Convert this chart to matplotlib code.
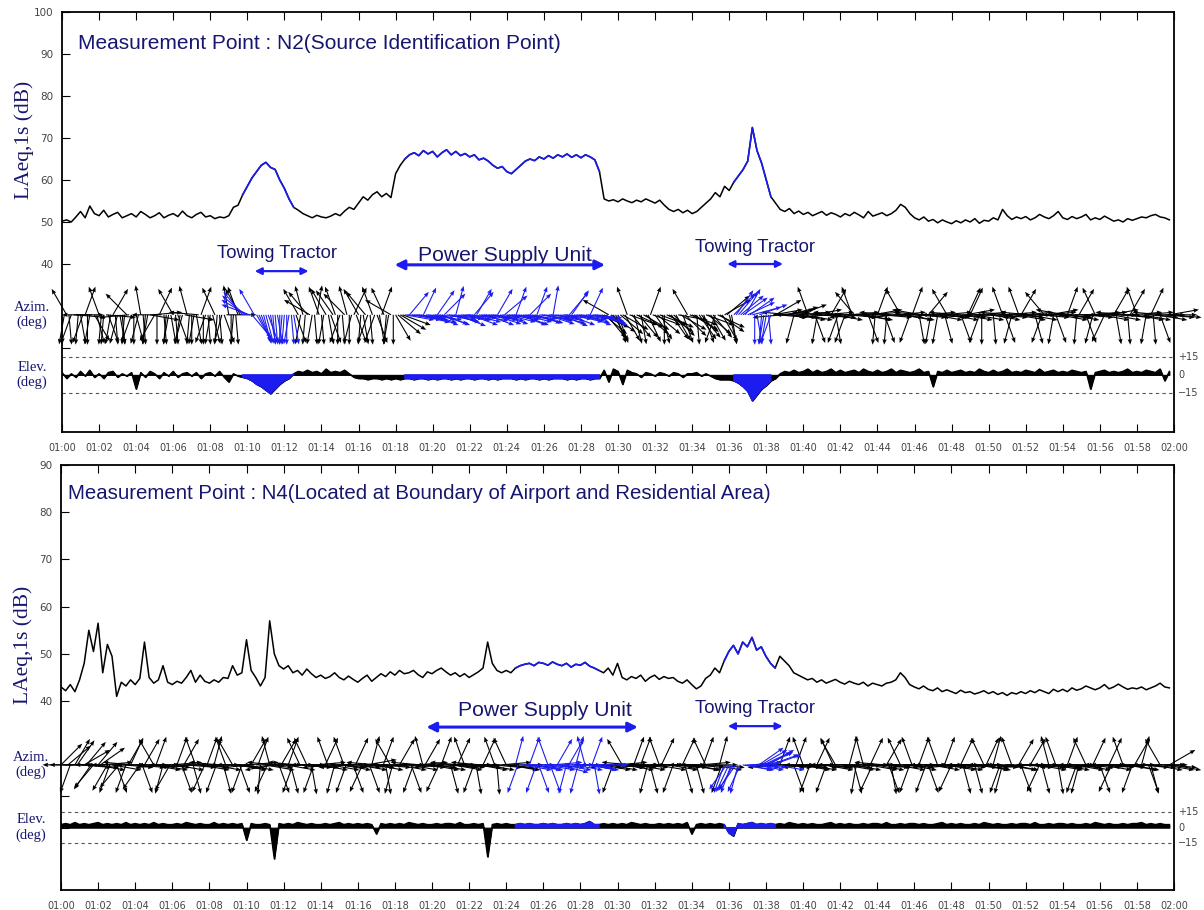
import numpy as np
import matplotlib
matplotlib.use("Agg")
import matplotlib.pyplot as plt

# ---------------- data (15 s resolution, minutes after 01:00) ----------------
top_level = [
    50.2, 50.5, 50.0, 51.2,  52.5, 51.0, 53.8, 52.0,  51.5, 52.8, 51.2, 51.8,
    52.3, 51.0, 51.5, 52.0,  51.2, 52.5, 51.8, 51.0,  51.5, 52.2, 51.0, 51.6,
    52.0, 51.3, 52.6, 51.5,  51.0, 51.8, 52.3, 51.2,  51.5, 50.8, 51.2, 51.0,
    51.5, 53.5, 54.0, 56.5,  58.5, 60.5, 62.0, 63.5,  64.2, 63.0, 62.5, 60.0,
    58.0, 55.5, 53.5, 52.8,  52.0, 51.5, 51.0, 51.6,  51.2, 51.0, 51.4, 52.0,
    51.5, 52.6, 53.5, 53.0,  54.5, 56.0, 55.2, 56.5,  57.2, 56.0, 56.8, 55.8,
    61.5, 63.5, 65.0, 66.0,  66.5, 65.8, 67.0, 66.2,  66.8, 65.5, 66.5, 67.2,
    66.0, 66.8, 65.8, 66.3,  65.5, 66.0, 64.8, 65.2,  64.5, 63.5, 62.8, 63.2,
    62.0, 61.5, 62.5, 63.5,  64.5, 65.0, 64.6, 65.5,  65.0, 65.8, 65.2, 66.0,
    65.5, 66.2, 65.4, 66.0,  65.3, 66.0, 65.5, 64.8,  62.0, 55.5, 55.0, 55.3,
    54.8, 55.5, 55.0, 54.6,  55.2, 54.8, 55.5, 55.0,  54.5, 55.2, 54.0, 53.0,
    52.5, 53.0, 52.2, 52.8,  52.0, 52.5, 53.5, 54.5,  55.5, 57.0, 56.0, 58.5,
    57.5, 59.5, 61.0, 62.5,  64.5, 72.5, 67.0, 64.0,  60.0, 56.0, 54.5, 53.0,
    52.5, 53.2, 52.0, 52.6,  51.8, 52.3, 51.5, 52.0,  52.5, 51.6, 52.2, 51.8,
    51.2, 52.0, 51.5, 52.3,  51.7, 51.0, 52.5, 51.4,  51.8, 52.2, 51.5, 52.0,
    52.8, 54.2, 53.5, 52.0,  51.0, 50.5, 51.2, 50.2,  50.6, 49.8, 50.5, 50.0,
    49.6, 50.3, 49.8, 50.5,  50.0, 50.8, 49.7, 50.4,  50.2, 51.0, 50.5, 53.0,
    51.5, 50.6, 51.2, 50.8,  51.3, 50.5, 51.0, 51.8,  51.2, 50.8, 51.5, 52.5,
    51.0, 50.6, 51.3, 50.8,  51.2, 51.8, 50.5, 51.0,  50.6, 51.4, 50.8, 50.2,
    50.5, 50.0, 50.8, 50.4,  50.8, 51.2, 51.0, 51.5,  51.8, 51.2, 51.0, 50.5,
]
bot_level = [
    43.0, 42.2, 43.5, 42.0,  44.5, 48.0, 55.0, 50.5,  56.5, 46.0, 52.0, 49.5,
    41.0, 44.0, 43.2, 44.5,  43.5, 44.8, 52.5, 45.0,  43.8, 44.5, 47.5, 44.0,
    43.5, 44.2, 43.8, 45.0,  46.5, 44.0, 45.5, 44.2,  43.8, 44.5, 44.0, 45.0,
    44.8, 47.5, 45.5, 46.0,  53.0, 46.5, 45.0, 43.2,  45.0, 57.0, 50.0, 47.5,
    46.8, 47.5, 46.0, 46.5,  45.5, 46.8, 45.8, 45.0,  45.5, 44.8, 45.2, 46.0,
    45.0, 44.5, 45.3, 44.6,  44.0, 44.8, 45.5, 44.2,  45.0, 45.8, 45.2, 46.2,
    45.5, 46.5, 45.8, 46.0,  46.5, 45.6, 45.0, 46.2,  45.8, 46.5, 47.0, 46.2,
    45.5, 46.0, 45.2, 45.8,  45.0, 45.6, 46.2, 47.0,  52.5, 48.0, 46.5, 46.0,
    46.5, 46.0, 47.0, 47.5,  47.8, 48.0, 47.5, 48.2,  48.0, 47.6, 48.3, 47.8,
    47.5, 48.0, 47.2, 47.8,  47.6, 48.2, 47.4, 47.0,  46.5, 46.0, 47.0, 45.5,
    48.0, 45.0, 44.5, 45.2,  44.8, 45.5, 44.2, 45.0,  45.5, 44.6, 45.2, 44.8,
    45.0, 44.2, 43.8, 44.5,  43.5, 42.6, 43.2, 44.8,  45.5, 47.0, 46.0, 48.5,
    50.5, 51.8, 50.0, 52.5,  51.5, 53.5, 50.8, 51.5,  49.5, 48.0, 47.0, 49.5,
    48.5, 47.5, 46.0, 45.5,  45.0, 44.5, 44.8, 44.0,  44.5, 43.8, 44.2, 44.6,
    44.0, 43.6, 44.2, 43.8,  43.5, 44.0, 43.2, 43.8,  43.5, 43.2, 43.8, 44.0,
    44.5, 46.0, 45.0, 43.5,  43.0, 42.6, 43.2, 42.5,  42.2, 42.8, 42.0, 42.4,
    42.0, 41.6, 42.3, 41.8,  42.0, 41.5, 41.8, 42.2,  41.6, 42.0, 41.4, 41.8,
    41.2, 41.8, 41.5, 42.0,  41.6, 42.2, 41.8, 42.4,  42.0, 41.6, 42.5, 42.0,
    42.5, 42.0, 42.8, 42.3,  42.6, 43.2, 42.8, 42.4,  42.8, 43.5, 42.6, 43.0,
    43.6, 43.0, 42.5, 42.8,  42.6, 43.0, 42.4, 42.8,  43.2, 43.8, 43.0, 42.8,
]
# azimuth of the arrows, degrees clockwise from "up" on the strip
# (two detections per 15 s step: at t and t + 7.5 s)
top_azim = [
    180, 330, 200, 95,  170, 20, 190, 150,  340, 185, 160, 30,  195, 175, 315, 200,
    165, 350, 185, 100,  210, 25, 175, 190,  330, 160, 195, 345,  180, 170, 20, 200,
    190, 335, 175, 160,  350, 185, 340, 320,  300, 140, 150, 160,  165, 170, 175, 180,
    185, 190, 170, 330,  345, 320, 190, 10,  175, 330, 160, 340,  200, 315, 180, 25,
    330, 170, 200, 340,  160, 20, 185, 300,  150, 120, 100, 40,  95, 100, 25, 105,
    100, 35, 110, 98,  105, 15, 100, 95,  110, 40, 102, 96,  100, 108, 30, 95,
    104, 98, 20, 110,  100, 45, 106, 97,  102, 95, 10, 108,  98, 110, 35, 100,
    105, 96, 25, 102,  110, 130, 300, 150,  160, 120, 340, 140,  115, 170, 130, 20,
    145, 110, 180, 125,  135, 100, 160, 330,  120, 175, 140, 110,  150, 200, 125, 60,
    165, 45, 40, 55,  65, 75, 170, 185,  190, 200, 60, 85,  80, 75, 195, 70,
    100, 340, 80, 190,  275, 95, 30, 170,  90, 200, 85, 320,  265, 100, 160, 80,
    20, 95, 185, 270,  85, 330, 100, 200,  90, 170, 275, 40,  100, 190, 85, 330,
    270, 95, 160, 80,  25, 100, 200, 90,  265, 175, 95, 340,  85, 195, 100, 30,
    90, 275, 165, 95,  320, 80, 190, 100,  95, 20, 270, 185,  90, 160, 85, 335,
    100, 205, 80, 30,  270, 95, 175, 85,  340, 100, 190, 25,  90, 160, 95, 80,
]
top_azim2 = [
    190, 175, 90, 185,  200, 180, 270, 165,  185, 95, 190, 175,  170, 185, 265, 180,
    195, 175, 190, 85,  180, 270, 185, 170,  175, 190, 100, 185,  190, 275, 180, 175,
    165, 185, 195, 90,  180, 175, 330, 310,  290, 330, 155, 165,  160, 175, 170, 185,
    180, 175, 160, 190,  185, 300, 175, 340,  190, 170, 325, 180,  175, 345, 195, 160,
    185, 320, 175, 200,  170, 335, 190, 180,  130, 110, 95, 100,  100, 105, 98, 110,
    95, 108, 45, 102,  98, 112, 100, 96,  104, 30, 98, 110,  96, 102, 108, 50,
    100, 95, 110, 104,  98, 106, 20, 100,  108, 97, 102, 112,  95, 40, 104, 98,
    110, 100, 96, 106,  115, 140, 125, 160,  130, 150, 110, 165,  140, 120, 155, 110,
    130, 165, 115, 145,  150, 120, 135, 110,  125, 145, 160, 130,  140, 115, 150, 50,
    170, 35, 50, 30,  55, 180, 70, 190,  175, 80, 95, 265,  95, 275, 100, 85,
    270, 90, 160, 95,  85, 265, 100, 200,  275, 95, 340, 90,  100, 270, 85, 185,
    90, 160, 275, 95,  265, 100, 90, 20,  95, 280, 85, 190,  270, 95, 165, 100,
    90, 275, 100, 25,  265, 85, 180, 95,  100, 270, 90, 160,  275, 95, 340, 85,
    100, 265, 90, 200,  85, 270, 160, 95,  280, 100, 90, 30,  95, 270, 195, 85,
    265, 90, 100, 170,  95, 275, 30, 100,  270, 85, 95, 175,  100, 275, 90, 95,
]
bot_azim = [
    45, 90, 200, 30,  270, 60, 95, 220,  40, 85, 210, 100,  160, 270, 200, 25,
    95, 215, 30, 90,  330, 100, 195, 270,  85, 20, 160, 95,  265, 340, 100, 205,
    90, 15, 275, 165,  95, 330, 100, 200,  270, 30, 90, 185,  100, 345, 260, 160,
    90, 20, 200, 275,  95, 335, 170, 85,  270, 25, 100, 195,  90, 340, 265, 160,
    100, 205, 80, 15,  275, 95, 170, 330,  90, 30, 265, 100,  200, 85, 345, 95,
    270, 100, 20, 90,  165, 95, 275, 340,  90, 200, 100, 25,  270, 95, 175, 85,
    335, 100, 15, 95,  90, 20, 100, 160,  95, 340, 85, 30,  100, 195, 90, 15,
    95, 345, 100, 170,  90, 270, 100, 200,  85, 330, 95, 275,  100, 20, 265, 165,
    90, 340, 270, 100,  200, 95, 25, 270,  100, 165, 85, 335,  270, 95, 15, 200,
    205, 210, 195, 100,  90, 85, 95, 60,  65, 70, 100, 20,  90, 270, 160, 95,
    340, 100, 265, 25,  95, 200, 90, 330,  270, 100, 15, 165,  90, 345, 100, 205,
    265, 95, 30, 170,  100, 335, 90, 200,  270, 20, 95, 160,  90, 340, 265, 100,
    205, 95, 25, 90,  270, 165, 100, 335,  95, 15, 270, 195,  100, 340, 90, 160,
    265, 30, 95, 205,  90, 345, 100, 170,  270, 20, 95, 200,  100, 335, 265, 90,
    160, 95, 25, 270,  90, 340, 100, 200,  265, 15, 95, 165,  90, 330, 100, 60,
]
bot_azim2 = [
    90, 50, 270, 35,  95, 40, 215, 100,  55, 270, 200, 90,  220, 95, 30, 275,
    90, 160, 270, 100,  20, 95, 265, 210,  100, 270, 30, 90,  165, 95, 270, 20,
    100, 200, 90, 340,  270, 95, 160, 100,  85, 265, 20, 95,  205, 90, 275, 30,
    100, 165, 90, 335,  270, 95, 200, 100,  90, 340, 265, 95,  100, 200, 90, 25,
    270, 95, 160, 100,  90, 20, 265, 195,  100, 270, 90, 160,  95, 275, 30, 100,
    90, 205, 265, 95,  100, 25, 90, 270,  95, 170, 275, 100,  90, 340, 265, 95,
    100, 90, 200, 100,  95, 100, 200, 90,  100, 160, 95, 105,  90, 30, 100, 195,
    95, 100, 20, 90,  100, 90, 270, 95,  265, 100, 90, 20,  95, 270, 195, 90,
    100, 25, 265, 95,  90, 270, 165, 100,  95, 270, 20, 90,  100, 265, 200, 215,
    200, 215, 205, 100,  95, 100, 55, 65,  60, 70, 265, 95,  270, 95, 20, 100,
    90, 200, 270, 95,  100, 265, 335, 90,  95, 270, 100, 190,  265, 90, 25, 100,
    95, 275, 160, 90,  270, 95, 100, 340,  90, 265, 200, 100,  95, 270, 20, 90,
    100, 265, 165, 95,  90, 270, 100, 25,  265, 95, 200, 90,  100, 270, 30, 95,
    90, 265, 100, 165,  270, 95, 340, 100,  90, 265, 100, 195,  95, 270, 25, 90,
    100, 265, 205, 95,  270, 90, 100, 30,  95, 265, 160, 100,  90, 270, 95, 100,
]
# elevation, degrees
top_elev = [
    2, -3, 1, -2,  3, -1, 4, -2,  1, -3, 2, 3,  -2, 1, -1, 2,
    -12, 2, -2, 3,  1, -3, 2, -1,  3, -2, 1, 2,  -1, 2, -3, 1,
    2, -1, 3, -2,  -6, 1, -1, -2,  -3, -5, -8, -10,  -13, -16, -12, -8,
    -5, -3, 1, 3,  2, 4, 2, 3,  1, 5, 2, 3,  2, 4, 1, -2,
    -3, -3, -4, -3,  -3, -4, -3, -4,  -3, -4, -3, -3,  -4, -3, -3, -4,
    -3, -4, -3, -3,  -4, -3, -4, -3,  -3, -4, -3, -3,  -4, -3, -4, -3,
    -3, -3, -4, -3,  -4, -3, -3, -4,  -3, -4, -3, -3,  -3, -4, -3, -4,
    -3, -3, -4, -3,  -3, 4, -6, 5,  3, -8, 4, 2,  1, -2, 2, 1,
    -1, 2, 1, -1,  2, 1, -2, 1,  1, 2, -1, 1,  -1, -3, -4, -4,
    -4, -5, -7, -10,  -14, -22, -17, -12,  -9, -5, -3, 1,  3, 2, 4, 2,
    3, 5, 2, 4,  2, 3, 5, 2,  4, 2, 3, 4,  2, 5, 3, 2,
    4, 2, 3, 5,  2, 4, 3, 2,  3, 5, 2, 3,  -10, 3, 2, 4,
    2, 3, 4, 2,  3, 2, 5, 3,  2, 4, 2, 3,  5, 2, 3, 2,
    4, 3, 2, 5,  2, 3, 4, 2,  3, 2, 4, 3,  2, 3, -12, 2,
    3, 4, 2, 3,  2, 3, 5, 2,  3, 2, 4, 3,  2, 5, -5, 3,
]
bot_elev = [
    3, 4, 3, 5,  3, 4, 3, 4,  5, 3, 4, 3,  4, 3, 5, 3,
    4, 3, 4, 3,  5, 3, 4, 3,  3, 4, 3, 5,  4, 3, 4, 3,
    3, 5, 3, 4,  3, 4, 3, 4,  -12, 4, 3, 3,  4, 3, -30, 4,
    3, 4, 3, 5,  4, 3, 4, 3,  3, 4, 3, 4,  5, 3, 4, 3,
    4, 3, 4, 3,  -6, 4, 3, 4,  3, 4, 3, 5,  4, 3, 4, 3,
    3, 4, 3, 4,  4, 3, 5, 3,  3, 4, 3, 4,  -28, 3, 4, 3,
    4, 3, 3, 4,  3, 4, 3, 3,  4, 3, 4, 3,  3, 4, 3, 4,
    3, 4, 6, 3,  3, 4, 3, 4,  3, 4, 3, 5,  4, 3, 4, 3,
    3, 4, 3, 4,  3, 4, 3, 5,  -6, 3, 4, 3,  4, 3, 4, 3,
    -5, -8, 4, 3,  4, 5, 3, 4,  3, 4, 3, 4,  3, 5, 4, 3,
    4, 3, 4, 3,  3, 4, 5, 3,  4, 3, 4, 3,  3, 4, 3, 4,
    4, 3, 5, 3,  3, 4, 3, 4,  4, 3, 4, 3,  3, 4, 5, 3,
    4, 3, 4, 3,  3, 4, 3, 5,  4, 3, 4, 3,  3, 4, 3, 4,
    4, 3, 5, 3,  3, 4, 3, 4,  4, 3, 4, 3,  3, 4, 3, 5,
    4, 3, 4, 3,  3, 4, 3, 4,  4, 5, 3, 4,  3, 4, 3, 3,
]
top_blue_spans = [(9.75, 12.5), (18.5, 29.0), (36.25, 38.25)]
bot_blue_spans = [(24.5, 29.0), (35.75, 38.5)]
x_tick_labels = ["01:%02d" % m for m in range(0, 60, 2)] + ["02:00"]

top_title = "Measurement Point : N2(Source Identification Point)"
bot_title = "Measurement Point : N4(Located at Boundary of Airport and Residential Area)"
top_annots = [("Towing Tractor", 11.6, 42.4, 10.4, 13.3, 38.3, 13.3, 1.6),
              ("Power Supply Unit", 23.9, 42.1, 17.95, 29.3, 39.8, 15.2, 2.2),
              ("Towing Tractor", 37.4, 44.0, 35.9, 38.9, 40.0, 13.3, 1.6)]
bot_annots = [("Power Supply Unit", 26.1, 38.1, 19.7, 31.1, 34.5, 15.2, 2.2),
              ("Towing Tractor", 37.4, 38.5, 35.95, 38.9, 34.7, 13.3, 1.6)]

# ---------------- style ----------------
BLUE = "#1c1cf0"
NAVY = "#16166e"
GRAY = "#444444"

fig = plt.figure(figsize=(12.04, 9.10), dpi=100)
W, H = 1204.0, 910.0
ax1 = fig.add_axes([62 / W, 1 - 432 / H, 1112 / W, 420 / H])
ax2 = fig.add_axes([61 / W, 1 - 890 / H, 1113 / W, 425 / H])

t = np.arange(240) * 0.25


def in_spans(tt, spans):
    m = np.zeros_like(tt, dtype=bool)
    for a, b in spans:
        m |= (tt >= a - 1e-9) & (tt <= b + 1e-9)
    return m


def panel(ax, level, azims, elev, spans, ymax, yticks, azc, e0, escale,
          title, title_xy, title_fs, annots):
    level = np.asarray(level, float)
    elev = np.asarray(elev, float)
    blue = in_spans(t, spans)

    ax.set_xlim(0, 60)
    ax.set_ylim(0, ymax)

    # level trace
    ax.plot(t, level, color="black", lw=1.1, zorder=3)
    ax.plot(t, np.where(blue, level, np.nan), color=BLUE, lw=1.2, zorder=4)

    # azimuth arrows
    fig.canvas.draw()
    bb = ax.get_window_extent()
    ppx = bb.width / 60.0
    ppy = bb.height / ymax
    L = 30.0
    for k, az in enumerate(azims):
        tk = t + 0.125 * k
        bk = in_spans(tk, spans)
        rad = np.deg2rad(np.asarray(az, float))
        U = L * np.sin(rad) / ppx
        V = L * np.cos(rad) / ppy
        for sel, col, z in [(~bk, "black", 3), (bk, BLUE, 4)]:
            if sel.any():
                ax.quiver(tk[sel], np.full(sel.sum(), azc), U[sel], V[sel],
                          color=col, angles="xy", scale_units="xy", scale=1,
                          units="dots", width=1.1, headwidth=4, headlength=5,
                          headaxislength=4.5, clip_on=False, zorder=z)

    # elevation strip
    ey = e0 + elev * escale
    ax.axhline(e0 + 15 * escale, color="#555555", lw=0.8, ls=(0, (3, 3)))
    ax.axhline(e0 - 15 * escale, color="#555555", lw=0.8, ls=(0, (3, 3)))
    ax.fill_between(t, e0, ey, color="black", lw=0.8, zorder=3)
    ax.plot(t, ey, color="black", lw=1.0, zorder=3)
    bey = np.where(blue, ey, np.nan)
    ax.fill_between(t, e0, bey, color=BLUE, lw=1.0, edgecolor=BLUE, zorder=4)

    # axes styling
    ax.set_xticks(np.arange(0, 61, 2))
    ax.set_xticklabels(x_tick_labels)
    ax.set_yticks([20, e0] + yticks)
    ax.set_yticklabels(["", ""] + [str(v) for v in yticks])
    ax.tick_params(axis="x", direction="in", top=True, length=6, width=0.8,
                   labelsize=7, labelcolor=GRAY, pad=8)
    ax.tick_params(axis="y", direction="in", length=6, width=0.8,
                   labelsize=7.5, labelcolor=GRAY, pad=6)
    for sp in ax.spines.values():
        sp.set_linewidth(1.3)

    ax.text(title_xy[0], title_xy[1], title, transform=ax.transAxes,
            fontsize=title_fs, color=NAVY, family="Liberation Sans",
            va="center", ha="left")
    for txt, tx, ty, a0, a1, ay, fs, lw in annots:
        ax.text(tx, ty, txt, fontsize=fs, color=NAVY, ha="center",
                va="center", family="Liberation Sans")
        ax.annotate("", xy=(a1, ay), xytext=(a0, ay),
                    arrowprops=dict(arrowstyle="<|-|>", color=BLUE, lw=lw,
                                    mutation_scale=10 if lw < 2 else 14,
                                    shrinkA=0, shrinkB=0))

    # side labels
    ax.text(-0.027, azc, "Azim.\n(deg)", transform=ax.get_yaxis_transform(),
            ha="center", va="center", fontsize=10.5, color=NAVY,
            family="Liberation Serif", linespacing=1.2)
    ax.text(-0.027, e0, "Elev.\n(deg)", transform=ax.get_yaxis_transform(),
            ha="center", va="center", fontsize=10.5, color=NAVY,
            family="Liberation Serif", linespacing=1.2)
    for v, s in [(15, "+15"), (0, "0"), (-15, "\u221215")]:
        ax.text(1.004, e0 + v * escale, s, transform=ax.get_yaxis_transform(),
                ha="left", va="center", fontsize=7, color=GRAY)


panel(ax1, top_level, [top_azim, top_azim2], top_elev, top_blue_spans, 100,
      [40, 50, 60, 70, 80, 90, 100], 27.9, 13.6, 4.2 / 15, top_title,
      (0.0144, 0.926), 15, top_annots)
panel(ax2, bot_level, [bot_azim, bot_azim2], bot_elev, bot_blue_spans, 90,
      [40, 50, 60, 70, 80, 90], 26.5, 13.2, 3.3 / 15, bot_title,
      (0.0063, 0.934), 14.7, bot_annots)

ax1.text(-0.034, 69.5, "LAeq,1s (dB)", transform=ax1.get_yaxis_transform(),
         rotation=90, ha="center", va="center", fontsize=15.5, color=NAVY,
         family="Liberation Serif")
ax2.text(-0.034, 52.0, "LAeq,1s (dB)", transform=ax2.get_yaxis_transform(),
         rotation=90, ha="center", va="center", fontsize=15.5, color=NAVY,
         family="Liberation Serif")

fig.savefig("out.png", dpi=100)
